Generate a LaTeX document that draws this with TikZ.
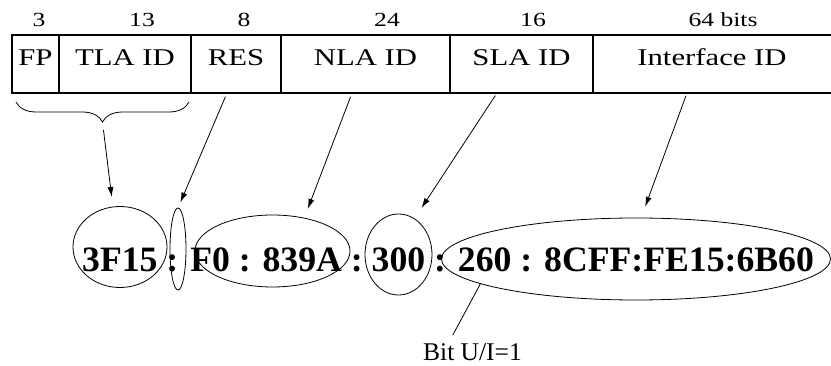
\documentclass[tikz,border=0pt]{standalone}
\usepackage{fontspec}
\setmainfont{Liberation Serif}
\newfontfamily\widefont[FakeStretch=1.28]{Liberation Serif}
\usetikzlibrary{arrows.meta}
\usetikzlibrary{shapes.geometric}
\usetikzlibrary{decorations.pathreplacing}

\tikzset{
  field/.style={draw, line width=1.8pt, minimum height=58pt, inner sep=0pt,
    outer sep=0pt, text height=16pt, text depth=12pt,
    font=\widefont\fontsize{24}{28}\selectfont},
  bits/.style={anchor=base, inner sep=0pt, font=\widefont\fontsize{20}{24}\selectfont},
  ring/.style={draw, ellipse, line width=0.8pt, inner sep=0pt, outer sep=0pt},
  pointer/.style={-{Latex[length=10pt,width=6pt]}, line width=0.8pt},
}

\begin{document}
\begin{tikzpicture}[x=1pt, y=-1pt]
\useasboundingbox (0,0) rectangle (831,366);
% address fields
\node[field, minimum width=47pt]  (fp)  at (35.5,64)  {FP};
\node[field, minimum width=132pt] (tla) at (125,64)   {TLA ID};
\node[field, minimum width=90pt]  (res) at (236,64)   {RES};
\node[field, minimum width=169pt] (nla) at (365.5,64) {NLA ID};
\node[field, minimum width=143pt] (sla) at (521.5,64) {SLA ID};
\node[field, draw=none, minimum width=238pt] (intf) at (712,64) {Interface ID};
\draw[line width=1.8pt] (sla.north east) -- ++(238,0);
\draw[line width=1.8pt] (sla.south east) -- ++(238,0);
% field sizes
\node[bits] (b3)  at (39,27)  {3};
\node[bits] (b13) at (142,27) {13};
\node[bits] (b8)  at (244,27) {8};
\node[bits] (b24) at (387,27) {24};
\node[bits] (b16) at (533,27) {16};
\node[bits] (b64) at (723,27) {64 bits};
% brace under FP and TLA ID
\draw[line width=0.8pt, decorate, decoration={brace, mirror, amplitude=20pt}]
  (16,102) -- (189,102);
\coordinate (brtip) at (102.5,122);
% the address
\node[anchor=base west, inner sep=0pt, font=\bfseries\fontsize{35.7}{40}\selectfont]
  (addr) at (82,272) {3F15 : F0 : 839A : 300 : 260 : 8CFF:FE15:6B60};
\node[ring, minimum width=94pt,  minimum height=81pt] (e3f15)  at (120,247)    {};
\node[ring, minimum width=16pt,  minimum height=82pt] (ecolon) at (178,249)    {};
\node[ring, minimum width=155pt, minimum height=72pt] (enla)   at (272.5,251)  {};
\node[ring, minimum width=67pt,  minimum height=81pt] (esla)   at (398.5,254.5) {};
\node[ring, minimum width=389pt, minimum height=82pt] (eintf)  at (636,259)    {};
% pointers
\draw[pointer, shorten <=8pt, shorten >=10pt] (brtip) -- (e3f15.100);
\draw[pointer, shorten <=4pt, shorten >=6pt] ([xshift=-9pt]res.south) -- (ecolon.north);
\draw[pointer, shorten <=4pt, shorten >=10pt] ([xshift=-13.5pt]nla.south) -- (enla.46);
\draw[pointer, shorten <=3pt, shorten >=13pt] ([xshift=-24.5pt]sla.south) -- (esla.66);
\draw[pointer, shorten <=3pt, shorten >=12pt] ([xshift=-25pt]intf.south) -- (eintf.83);
% U/I bit
\node[anchor=base, inner sep=0pt, font=\fontsize{25.5}{30}\selectfont]
  (bit) at (472.5,361) {Bit U/I=1};
\draw[line width=0.8pt, shorten >=10pt] (eintf.189) -- ([xshift=-24.5pt]bit.north);
\end{tikzpicture}
\end{document}
